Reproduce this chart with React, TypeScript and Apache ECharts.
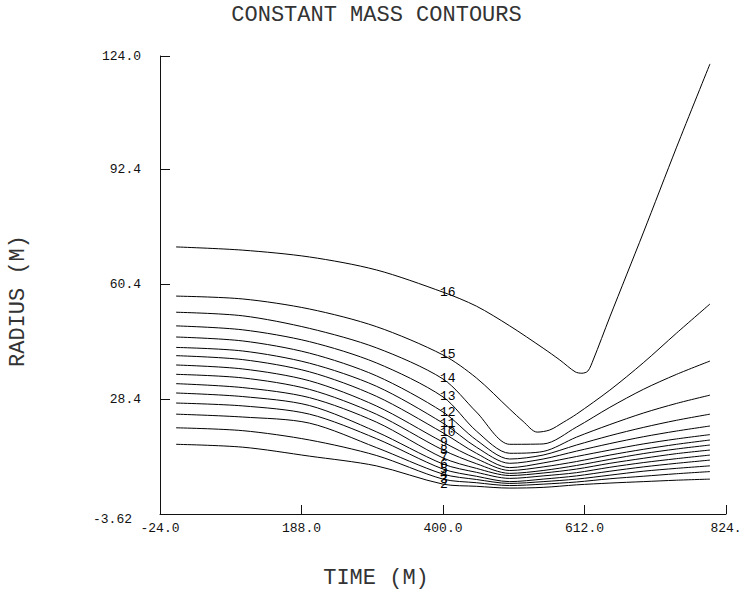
import React, { useEffect, useRef } from 'react';
import * as echarts from 'echarts';

// ---- data ----
const TIME = [0, 100, 200, 300, 400, 450, 500, 550, 600, 650, 700, 750, 800];
const TIME_16 = [0, 100, 200, 300, 400, 450, 500, 550, 575, 598, 608, 617, 625, 650, 700, 750, 800];
const TIME_15 = [0, 100, 200, 300, 400, 450, 500, 520, 541, 560, 580, 600, 650, 700, 750, 800];

const R16 = [70.8, 69.9, 68.0, 64.4, 58.2, 54.3, 48.8, 42.6, 39.3, 36.0, 35.6, 36.2, 39.3, 51.3, 74.7, 98.6, 121.8];
const R15 = [57.1, 56.3, 53.5, 48.6, 40.7, 34.3, 25.6, 22.2, 19.2, 19.8, 21.9, 24.2, 30.9, 38.5, 46.8, 54.9];
const R14 = [52.6, 51.6, 48.1, 42.7, 34.0, 24.8, 15.8, 15.9, 20.6, 26.1, 31.1, 35.3, 39.0];
const R13 = [48.8, 47.7, 44.4, 38.5, 29.0, 19.5, 13.3, 13.8, 17.8, 21.3, 24.5, 27.2, 29.5];
const R12 = [45.7, 44.6, 41.2, 34.9, 24.8, 17.0, 11.7, 12.8, 15.6, 18.2, 20.5, 22.5, 24.2];
const R11 = [42.8, 41.8, 38.4, 32.0, 21.7, 15.0, 10.5, 11.7, 13.9, 16.0, 17.9, 19.5, 20.9];
const R10 = [40.5, 39.4, 36.0, 29.2, 19.0, 13.3, 9.3, 10.6, 12.4, 14.2, 15.9, 17.3, 18.5];
const R9 = [37.9, 36.8, 33.5, 26.5, 16.4, 11.8, 8.5, 9.5, 11.0, 12.8, 14.4, 15.8, 17.0];
const R8 = [35.3, 34.3, 31.1, 24.2, 14.2, 10.4, 7.7, 8.5, 9.9, 11.6, 13.2, 14.5, 15.6];
const R7 = [32.7, 31.6, 28.8, 22.0, 12.0, 9.1, 7.1, 7.8, 8.9, 10.5, 11.9, 13.2, 14.2];
const R6 = [30.1, 29.1, 26.6, 19.3, 10.3, 8.0, 6.3, 7.0, 7.9, 9.4, 10.7, 11.8, 12.8];
const R5 = [27.3, 26.5, 24.2, 17.4, 8.9, 6.9, 5.4, 6.1, 7.0, 8.3, 9.5, 10.5, 11.4];
const R4 = [24.2, 23.4, 21.7, 14.9, 7.5, 6.0, 4.9, 5.4, 6.1, 7.2, 8.3, 9.1, 9.8];
const R3 = [20.4, 19.6, 17.0, 12.7, 6.1, 5.1, 4.3, 4.7, 5.3, 6.2, 6.9, 7.6, 8.2];
const R2 = [15.8, 15.0, 12.5, 9.8, 4.7, 4.1, 3.6, 3.8, 4.5, 5.0, 5.4, 5.8, 6.1];

const CURVES = [
  { name: '16', t: TIME_16, r: R16 },
  { name: '15', t: TIME_15, r: R15 },
  { name: '14', t: TIME, r: R14 },
  { name: '13', t: TIME, r: R13 },
  { name: '12', t: TIME, r: R12 },
  { name: '11', t: TIME, r: R11 },
  { name: '10', t: TIME, r: R10 },
  { name: '9', t: TIME, r: R9 },
  { name: '8', t: TIME, r: R8 },
  { name: '7', t: TIME, r: R7 },
  { name: '6', t: TIME, r: R6 },
  { name: '5', t: TIME, r: R5 },
  { name: '4', t: TIME, r: R4 },
  { name: '3', t: TIME, r: R3 },
  { name: '2', t: TIME, r: R2 },
];

const LABEL_TIME = 400;

const X_MIN = -24;
const X_MAX = 824;
const Y_MIN = -3.62;
const Y_MAX = 124;

const X_TICKS = [-24, 188, 400, 612, 824];
const X_TICK_TEXT = ['-24.0', '188.0', '400.0', '612.0', '824.'];
const Y_TICKS = [-3.62, 28.4, 60.4, 92.4, 124];
const Y_LABELED = [28.4, 60.4, 92.4, 124];
const Y_TICK_TEXT = ['28.4', '60.4', '92.4', '124.0'];
const Y_MIN_TEXT = '-3.62';

const TITLE = 'CONSTANT MASS CONTOURS';
const X_NAME = 'TIME (M)';
const Y_NAME = 'RADIUS (M)';

const FONT = '"Liberation Mono", "DejaVu Sans Mono", monospace';
const INK = '#111';
const SOFT = '#333';

function pick(ticks: number[], texts: string[], v: number) {
  for (let i = 0; i < ticks.length; i++) if (Math.abs(ticks[i] - v) < 1e-6) return texts[i];
  return '';
}

export default function App() {
  const ref = useRef<HTMLDivElement>(null);
  useEffect(() => {
    const chart = echarts.init(ref.current!, null, { renderer: 'svg' });
    const axisCommon = {
      type: 'value',
      axisLine: { show: true, onZero: false, lineStyle: { color: INK, width: 1 } },
      splitLine: { show: false },
    };
    const option: any = {
      animation: false,
      backgroundColor: '#fff',
      title: {
        text: TITLE,
        left: 'center',
        top: 4,
        padding: 0,
        textStyle: { fontFamily: FONT, fontSize: 22, fontWeight: 'normal', color: SOFT },
      },
      grid: { left: 160, right: 27, top: 56, bottom: 78 },
      xAxis: {
        ...axisCommon,
        min: X_MIN,
        max: X_MAX,
        axisTick: { show: true, inside: true, length: 9, customValues: X_TICKS, lineStyle: { color: INK } },
        axisLabel: {
          customValues: X_TICKS,
          formatter: (v: number) => pick(X_TICKS, X_TICK_TEXT, v),
          fontFamily: FONT,
          fontSize: 13,
          color: INK,
          margin: 8,
        },
      },
      yAxis: {
        ...axisCommon,
        min: Y_MIN,
        max: Y_MAX,
        axisTick: { show: true, inside: true, length: 10, customValues: Y_TICKS, lineStyle: { color: INK } },
        axisLabel: {
          customValues: Y_LABELED,
          formatter: (v: number) => pick(Y_LABELED, Y_TICK_TEXT, v),
          fontFamily: FONT,
          fontSize: 13,
          color: INK,
          margin: 19,
        },
      },
      graphic: [
        {
          type: 'text',
          x: 18,
          y: 301,
          rotation: Math.PI / 2,
          style: { text: Y_NAME, align: 'center', verticalAlign: 'middle', font: `22px ${FONT}`, fill: SOFT },
        },
        {
          type: 'text',
          x: 376,
          y: 578,
          style: { text: X_NAME, align: 'center', verticalAlign: 'middle', font: `22px ${FONT}`, fill: SOFT },
        },
        {
          type: 'text',
          x: 132,
          y: 519,
          style: { text: Y_MIN_TEXT, align: 'right', verticalAlign: 'middle', font: `13px ${FONT}`, fill: INK },
        },
      ],
      series: CURVES.map((c) => {
        const idx = c.t.indexOf(LABEL_TIME);
        return {
          type: 'line',
          name: c.name,
          data: c.t.map((t, i) => [t, c.r[i]]),
          smooth: 0.3,
          showSymbol: false,
          lineStyle: { color: '#000', width: 1 },
          silent: true,
          markPoint: {
            silent: true,
            symbol: 'circle',
            symbolSize: 0,
            itemStyle: { color: 'transparent' },
            label: {
              show: true,
              position: 'right',
              distance: -3,
              formatter: c.name,
              fontFamily: FONT,
              fontSize: 13,
              color: '#000',
            },
            data: [{ coord: [LABEL_TIME, c.r[idx]] }],
          },
        };
      }),
    };
    chart.setOption(option);
    return () => chart.dispose();
  }, []);
  return (
    <div
      ref={ref}
      style={{ position: 'fixed', left: 0, top: 0, width: 753, height: 592, background: '#fff' }}
    />
  );
}
